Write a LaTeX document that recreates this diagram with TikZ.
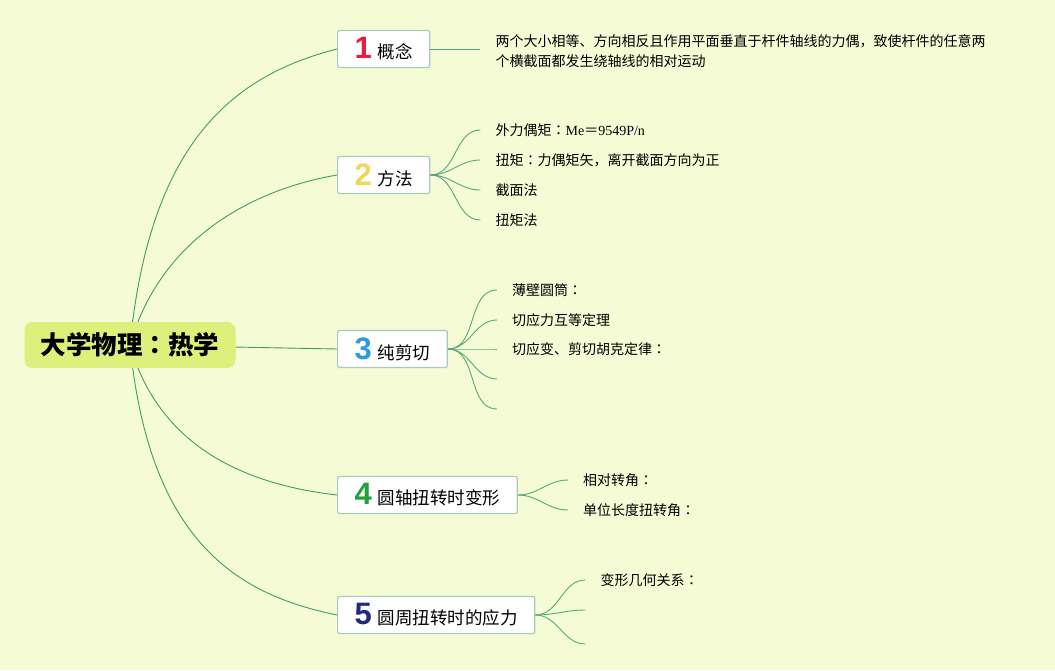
\documentclass[tikz,border=0pt]{standalone}
\usepackage{fontspec}
\setmainfont{Noto Sans CJK SC}
\newfontfamily\colonfont{Noto Sans CJK JP}
\newfontfamily\digitfont{Liberation Sans}
\newfontfamily\serifpart{Liberation Serif}
\usepackage{xcolor}
\usetikzlibrary{positioning,calc,backgrounds}
\definecolor{paper}{HTML}{F5FCD5}
\definecolor{rootfill}{HTML}{DDF07C}
\definecolor{boxedge}{HTML}{A8CBB8}
\definecolor{linkgreen}{HTML}{3F9A6C}
\definecolor{twiggreen}{HTML}{55A77E}
\definecolor{numred}{HTML}{E0203C}
\definecolor{numyellow}{HTML}{F2D65A}
\definecolor{numblue}{HTML}{2E9BE0}
\definecolor{numgreen}{HTML}{22A03A}
\definecolor{numnavy}{HTML}{1E2B7E}
\newcommand{\badge}[2]{{\digitfont\bfseries\fontsize{31}{31}\selectfont\textcolor{#1}{#2}}\hspace{6pt}}
\newcommand{\cc}{{\colonfont ：}}

\begin{document}
\begin{tikzpicture}[x=1pt,y=-1pt,
  every node/.style={font=\fontsize{14}{20}\selectfont},
  rootbox/.style={fill=rootfill,rounded corners=8pt,minimum width=211pt,minimum height=46pt,font=\fontsize{25.5}{30}\selectfont\bfseries},
  topicbox/.style={draw=boxedge,line width=1.2pt,fill=white,rounded corners=2pt,minimum height=37pt,inner xsep=17pt,anchor=west,font=\fontsize{17.5}{20}\selectfont},
  leaf/.style={inner sep=0pt,anchor=west,align=left},
  link/.style={draw=linkgreen,line width=0.9pt},
  twig/.style={draw=twiggreen,line width=0.9pt}
]
\begin{pgfonlayer}{background}
\fill[paper] (0,0) rectangle (1055,670);
\end{pgfonlayer}
\useasboundingbox (0,0) rectangle (1055,670);

\node[rootbox] (root) at (130,345) {大学物理\cc 热学};

\node[topicbox] (concept) at (337,49) {\badge{numred}{1}概念};
\node[topicbox] (method) at (337,175) {\badge{numyellow}{2}方法};
\node[topicbox] (shear) at (337,349) {\badge{numblue}{3}纯剪切};
\node[topicbox] (deform) at (337,495) {\badge{numgreen}{4}圆轴扭转时变形};
\node[topicbox] (stress) at (337,615) {\badge{numnavy}{5}圆周扭转时的应力};

\begin{pgfonlayer}{background}
\draw[link] (root.center) .. controls (150,140) and (235,75) .. (concept.west);
\draw[link] (root.center) .. controls (160,240) and (250,190) .. (method.west);
\draw[link] (root.center) -- (shear.west);
\draw[link] (root.center) .. controls (160,450) and (250,485) .. (deform.west);
\draw[link] (root.center) .. controls (150,545) and (240,595) .. (stress.west);
\end{pgfonlayer}

% 概念
\coordinate (c1) at ($(concept.east)+(50,0)$);
\draw[twig] (concept.east) -- (c1);
\node[leaf,right=15pt of c1,yshift=-2pt] (c1t) {两个大小相等、方向相反且作用平面垂直于杆件轴线的力偶，致使杆件的任意两\\个横截面都发生绕轴线的相对运动};

% 方法
\coordinate (m1) at ($(method.east)+(50,-45)$);
\coordinate (m2) at ($(method.east)+(50,-15)$);
\coordinate (m3) at ($(method.east)+(50,15)$);
\coordinate (m4) at ($(method.east)+(50,45)$);
\foreach \m in {m1,m2,m3,m4}
  \draw[twig] (method.east) to[out=0,in=180] (\m);
\node[leaf,right=15pt of m1] (m1t) {外力偶矩\cc{\serifpart Me}＝{\serifpart 9549P/n}};
\node[leaf,right=15pt of m2] (m2t) {扭矩\cc 力偶矩矢，离开截面方向为正};
\node[leaf,right=15pt of m3] (m3t) {截面法};
\node[leaf,right=15pt of m4] (m4t) {扭矩法};

% 纯剪切
\coordinate (s1) at ($(shear.east)+(49,-59)$);
\coordinate (s2) at ($(shear.east)+(49,-29)$);
\coordinate (s3) at ($(shear.east)+(49,0)$);
\coordinate (s4) at ($(shear.east)+(49,30)$);
\coordinate (s5) at ($(shear.east)+(49,60)$);
\foreach \s in {s1,s2,s3,s4,s5}
  \draw[twig] (shear.east) to[out=0,in=180] (\s);
\node[leaf,right=15pt of s1] (s1t) {薄壁圆筒\cc};
\node[leaf,right=15pt of s2] (s2t) {切应力互等定理};
\node[leaf,right=15pt of s3] (s3t) {切应变、剪切胡克定律\cc};

% 变形
\coordinate (d1) at ($(deform.east)+(50,-15)$);
\coordinate (d2) at ($(deform.east)+(50,15)$);
\foreach \d in {d1,d2}
  \draw[twig] (deform.east) to[out=0,in=180] (\d);
\node[leaf,right=15pt of d1] (d1t) {相对转角\cc};
\node[leaf,right=15pt of d2] (d2t) {单位长度扭转角\cc};

% 应力
\coordinate (r1) at ($(stress.east)+(50,-35)$);
\coordinate (r2) at ($(stress.east)+(50,-5)$);
\coordinate (r3) at ($(stress.east)+(50,29)$);
\foreach \r in {r1,r2,r3}
  \draw[twig] (stress.east) to[out=0,in=180] (\r);
\node[leaf,right=15pt of r1] (r1t) {变形几何关系\cc};
\end{tikzpicture}
\end{document}
